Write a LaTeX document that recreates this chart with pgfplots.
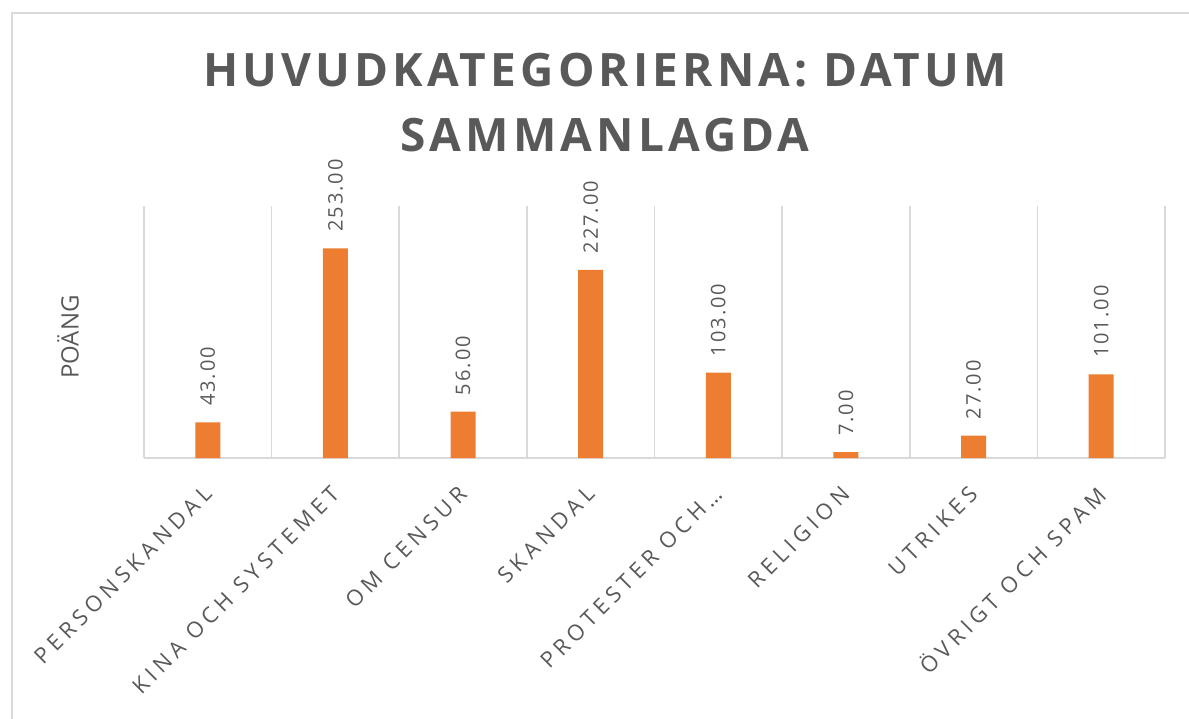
\documentclass[border=0pt]{standalone}
\usepackage{fontspec}
\usepackage{pgfplots}
\pgfplotsset{compat=1.18}
\setmainfont{Open Sans}
\newfontfamily\titlefont[LetterSpace=9]{Open Sans}
\newfontfamily\tickfont[LetterSpace=22]{Open Sans}
\newfontfamily\valfont[LetterSpace=10]{Open Sans}
\definecolor{barorange}{HTML}{ED7D31}
\definecolor{txtgray}{HTML}{595959}
\definecolor{gridgray}{HTML}{D9D9D9}
\begin{document}
\begin{tikzpicture}[x=1pt,y=1pt]
\useasboundingbox (-72,-130) rectangle (522.5,229);
\draw[gridgray, line width=1pt] (-66,-131) -- (-66,222.5) -- (524,222.5);
\node[txtgray, font=\titlefont\bfseries\fontsize{23}{27}\selectfont] at (230.5,194) {HUVUDKATEGORIERNA: DATUM};
\node[txtgray, font=\titlefont\bfseries\fontsize{23}{27}\selectfont] at (230.5,161.5) {SAMMANLAGDA};
\node[txtgray, rotate=90, font=\fontsize{12}{14}\selectfont] at (-38,60.5) {POÄNG};
\begin{axis}[
  at={(0,0)}, anchor=south west, scale only axis,
  width=510.5pt, height=126pt,
  xmin=-0.5, xmax=7.5, ymin=0, ymax=304,
  axis x line=bottom, axis y line=left,
  y axis line style={draw=none},
  x axis line style={-, draw=gridgray, line width=0.75pt},
  ytick=\empty,
  xtick={0,...,7},
  xticklabels={PERSONSKANDAL, KINA OCH SYSTEMET, OM CENSUR, SKANDAL, PROTESTER OCH…, RELIGION, UTRIKES, ÖVRIGT OCH SPAM},
  minor xtick={-0.5,0.5,...,7.5},
  xminorgrids=true,
  minor grid style={gridgray, line width=0.75pt},
  major tick length=0pt, minor tick length=0pt,
  xticklabel style={txtgray, font=\tickfont\fontsize{11}{13}\selectfont, yshift=-16pt, rotate=45, anchor=east, inner sep=0pt},
  clip=false,
]
\addplot[ybar, bar width=12.5pt, fill=barorange, draw=none,
  nodes near coords={\valfont\pgfmathprintnumber[fixed,fixed zerofill,precision=2,assume math mode=true]{\pgfplotspointmeta}},
  every node near coord/.append style={txtgray, font=\valfont\fontsize{10}{12}\selectfont, rotate=90, anchor=west, inner xsep=8pt, inner ysep=0pt},
] coordinates {(0,43) (1,253) (2,56) (3,227) (4,103) (5,7) (6,27) (7,101)};
\end{axis}
\end{tikzpicture}
\end{document}
